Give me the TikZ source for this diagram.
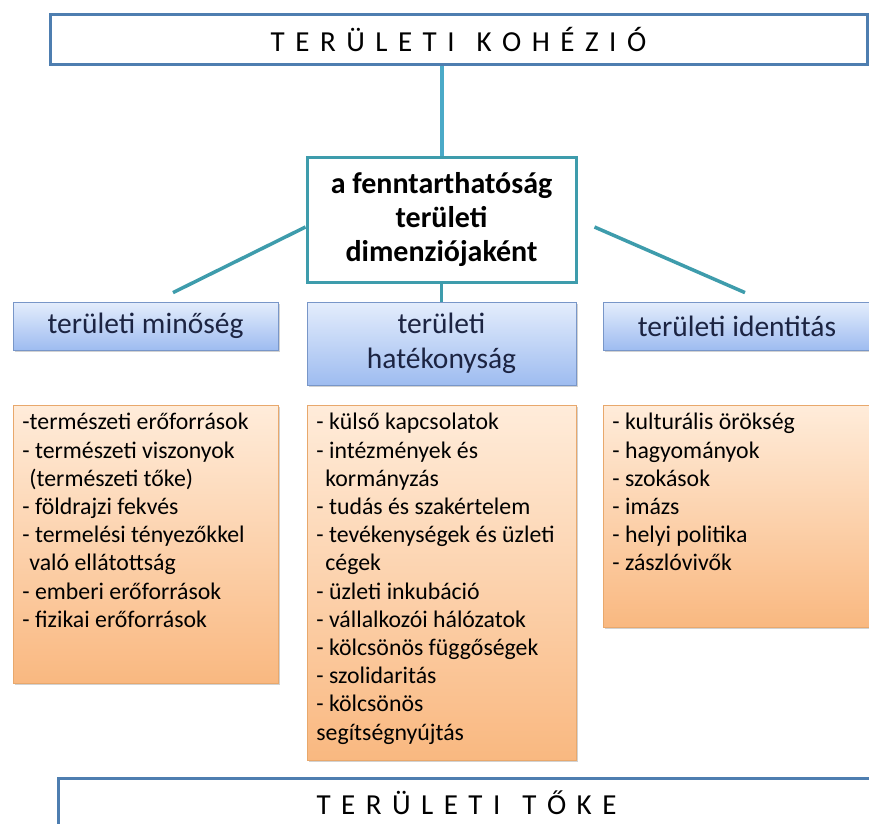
\documentclass[tikz,border=0pt]{standalone}
\usepackage{fontspec}
\setmainfont{Carlito}
\usepackage{tikz}
\usetikzlibrary{positioning,shadows}
\definecolor{framblue}{RGB}{78,126,176}
\definecolor{linblue}{RGB}{75,170,200}
\definecolor{linteal}{RGB}{62,156,172}
\definecolor{catedge}{RGB}{120,150,200}
\definecolor{cattop}{RGB}{228,237,252}
\definecolor{catbot}{RGB}{158,188,240}
\definecolor{cattext}{RGB}{28,36,66}
\definecolor{lstedge}{RGB}{232,168,108}
\definecolor{lsttop}{RGB}{255,236,218}
\definecolor{lstbot}{RGB}{249,184,128}
\newcommand{\capfont}{\fontsize{29}{32}\selectfont\spaceskip 10.5pt\relax}
\tikzset{
    capbox/.style={draw=framblue, line width=3pt, fill=white, minimum height=50pt,
        inner sep=0pt, font=\capfont},
    dimbox/.style={draw=linteal, line width=3pt, fill=white, align=center,
        inner sep=0pt, font=\bfseries\fontsize{30}{34}\selectfont},
    catbox/.style={draw=catedge, line width=0.8pt, top color=cattop, bottom color=catbot,
        text=cattext, align=center, inner sep=0pt,
        drop shadow={shadow xshift=2pt, shadow yshift=-2pt, opacity=0.35},
        font=\fontsize{29.5}{35}\selectfont},
    lstbox/.style={draw=lstedge, line width=0.8pt, top color=lsttop, bottom color=lstbot,
        anchor=north west, inner xsep=9pt, inner ysep=8pt,
        drop shadow={shadow xshift=2pt, shadow yshift=-2pt, opacity=0.35},
        font=\fontsize{23.8}{28.2}\selectfont},
    conn/.style={draw=linteal, line width=3.5pt}
}

\begin{document}
\begin{tikzpicture}[x=1pt, y=-1pt]
    \useasboundingbox (0, 0) rectangle (869, 823);
    \clip (0, 0) rectangle (869, 823);
    \fill[white] (0, 0) rectangle (869, 823);

    \node[capbox, minimum width=817pt] (kohezio) at (458.5, 39) {T E R Ü L E T I\hspace{22pt}K O H É Z I Ó};
    \node[dimbox, minimum width=269pt, minimum height=125pt] (dimenzio) at (441.5, 219.5)
        {a fenntarthatóság\\területi\\dimenziójaként};

    \node[catbox, minimum width=265pt, minimum height=48pt] (minoseg) at (145.5, 326) {területi minőség};
    \node[catbox, minimum width=269pt, minimum height=83pt] (hatekonysag) at (441.5, 343.5) {területi\\hatékonyság};
    \node[catbox, minimum width=268pt, minimum height=48pt] (identitas) at (737, 326) {területi identitás};

    \node[lstbox] (minosegLst) at (13, 405) {\parbox[t][262pt][t]{247pt}{\raggedright
        -természeti erőforrások\\
        - természeti viszonyok\\
        \hspace*{7pt}(természeti tőke)\\
        - földrajzi fekvés\\
        - termelési tényezőkkel\\
        \hspace*{7pt}való ellátottság\\
        - emberi erőforrások\\
        - fizikai erőforrások}};
    \node[lstbox] (hatekonysagLst) at (307, 405) {\parbox[t][339pt][t]{251pt}{\raggedright
        - külső kapcsolatok\\
        - intézmények és\\
        \hspace*{9pt}kormányzás\\
        - tudás és szakértelem\\
        - tevékenységek és üzleti\\
        \hspace*{9pt}cégek\\
        - üzleti inkubáció\\
        - vállalkozói hálózatok\\
        - kölcsönös függőségek\\
        - szolidaritás\\
        - kölcsönös\\
        segítségnyújtás}};
    \node[lstbox] (identitasLst) at (603, 405) {\parbox[t][206pt][t]{250pt}{\raggedright
        - kulturális örökség\\
        - hagyományok\\
        - szokások\\
        - imázs\\
        - helyi politika\\
        - zászlóvivők}};

    \node[capbox, minimum width=817pt] (toke) at (466.5, 803) {T E R Ü L E T I\hspace{22pt}T Ő K E};

    \draw[conn, draw=linblue, line width=4pt] (dimenzio.north) -- (dimenzio.north |- kohezio.south);
    \draw[conn] (dimenzio.south) -- (hatekonysag.north);
    \draw[conn] ([xshift=27.5pt, yshift=9pt]minoseg.north) -- ([yshift=-7.5pt]dimenzio.west);
    \draw[conn] ([xshift=17pt, yshift=-7.5pt]dimenzio.east) -- ([xshift=8pt, yshift=9pt]identitas.north);
\end{tikzpicture}
\end{document}
